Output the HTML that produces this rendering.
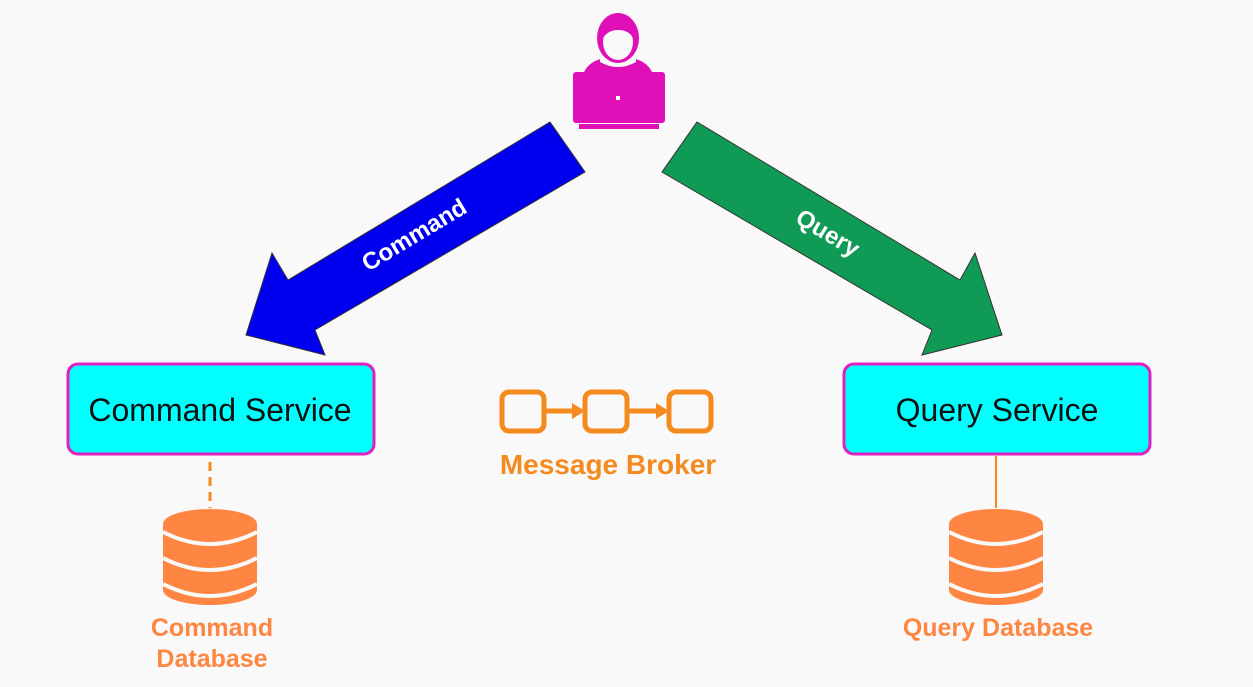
<!DOCTYPE html>
<html><head><style>
body{margin:0;background:#f9f9f9;}
svg{display:block}
text{font-family:"Liberation Sans",Arial,sans-serif}
</style></head><body>
<svg width="1253" height="687" viewBox="0 0 1253 687">
<rect width="1253" height="687" fill="#f9f9f9"/>
<!-- user -->
<g fill="#e010b8">
<path d="M584 72 Q590 60 606 58 L630 58 Q646 60 652 72 Z"/>
<rect x="573" y="72" width="92" height="51" rx="3"/>
<rect x="579" y="124" width="80" height="5"/>
</g>
<path d="M600 62 Q618 72 636 62 L636 56 L600 56Z" fill="#f9f9f9"/>
<ellipse cx="618" cy="38" rx="21" ry="25" fill="#e010b8"/>
<ellipse cx="618" cy="42" rx="15" ry="18" fill="#f9f9f9"/>
<path d="M602 40 Q603 20 618 20 Q634 20 634 40 Q630 30 618 30 Q607 30 602 40Z" fill="#e010b8"/>
<rect x="616" y="96" width="4" height="4" fill="#fff"/>
<!-- arrows -->
<polygon points="550,122 585,172 315,330 325,355 246,335 272,253 288,280" fill="#0000ee" stroke="#333" stroke-width="1"/>
<text x="0" y="0" font-size="24" font-weight="bold" fill="#fff" transform="translate(368,272) rotate(-31)">Command</text>
<polygon points="697,122 662,172 932,330 922,355 1002,335 975,253 960,280" fill="#0f9a55" stroke="#333" stroke-width="1"/>
<text x="0" y="0" font-size="24" font-weight="bold" fill="#fff" transform="translate(794,222) rotate(31)">Query</text>
<!-- boxes -->
<rect x="68" y="364" width="306" height="90" rx="10" fill="#00ffff" stroke="#e020c0" stroke-width="3"/>
<text x="220" y="421" font-size="32" text-anchor="middle" fill="#111">Command Service</text>
<rect x="844" y="364" width="306" height="90" rx="10" fill="#00ffff" stroke="#e020c0" stroke-width="3"/>
<text x="997" y="421" font-size="32" text-anchor="middle" fill="#111">Query Service</text>
<!-- broker -->
<g fill="none" stroke="#f58a1f" stroke-width="5">
<rect x="502" y="392" width="42" height="39" rx="7"/>
<rect x="585" y="392" width="42" height="39" rx="7"/>
<rect x="669" y="392" width="42" height="39" rx="7"/>
<line x1="544" y1="411" x2="574" y2="411"/>
<line x1="627" y1="411" x2="657" y2="411"/>
</g>
<polygon points="572,403 585,411 572,419" fill="#f58a1f"/>
<polygon points="656,403 669,411 656,419" fill="#f58a1f"/>
<text x="608" y="474" font-size="28" font-weight="bold" text-anchor="middle" fill="#f58a1f">Message Broker</text>
<!-- connectors -->
<line x1="210" y1="462" x2="210" y2="508" stroke="#f58a1f" stroke-width="3" stroke-dasharray="9,6"/>
<line x1="996" y1="456" x2="996" y2="508" stroke="#f58a1f" stroke-width="2"/>
<!-- dbs -->
<g id="db">
<path d="M163 524 A47 15 0 0 1 257 524 L257 590 A47 15 0 0 1 163 590Z" fill="#ff8642"/>
<path d="M163 532 Q210 556 257 532" fill="none" stroke="#f9f9f9" stroke-width="4"/>
<path d="M163 558 Q210 582 257 558" fill="none" stroke="#f9f9f9" stroke-width="4"/>
<path d="M163 584 Q210 608 257 584" fill="none" stroke="#f9f9f9" stroke-width="4"/>
</g>
<use href="#db" x="786"/>
<text x="212" y="636" font-size="25" font-weight="bold" text-anchor="middle" fill="#ff8642">Command</text>
<text x="212" y="667" font-size="25" font-weight="bold" text-anchor="middle" fill="#ff8642">Database</text>
<text x="998" y="636" font-size="25" font-weight="bold" text-anchor="middle" fill="#ff8642">Query Database</text>
</svg>
</body></html>
